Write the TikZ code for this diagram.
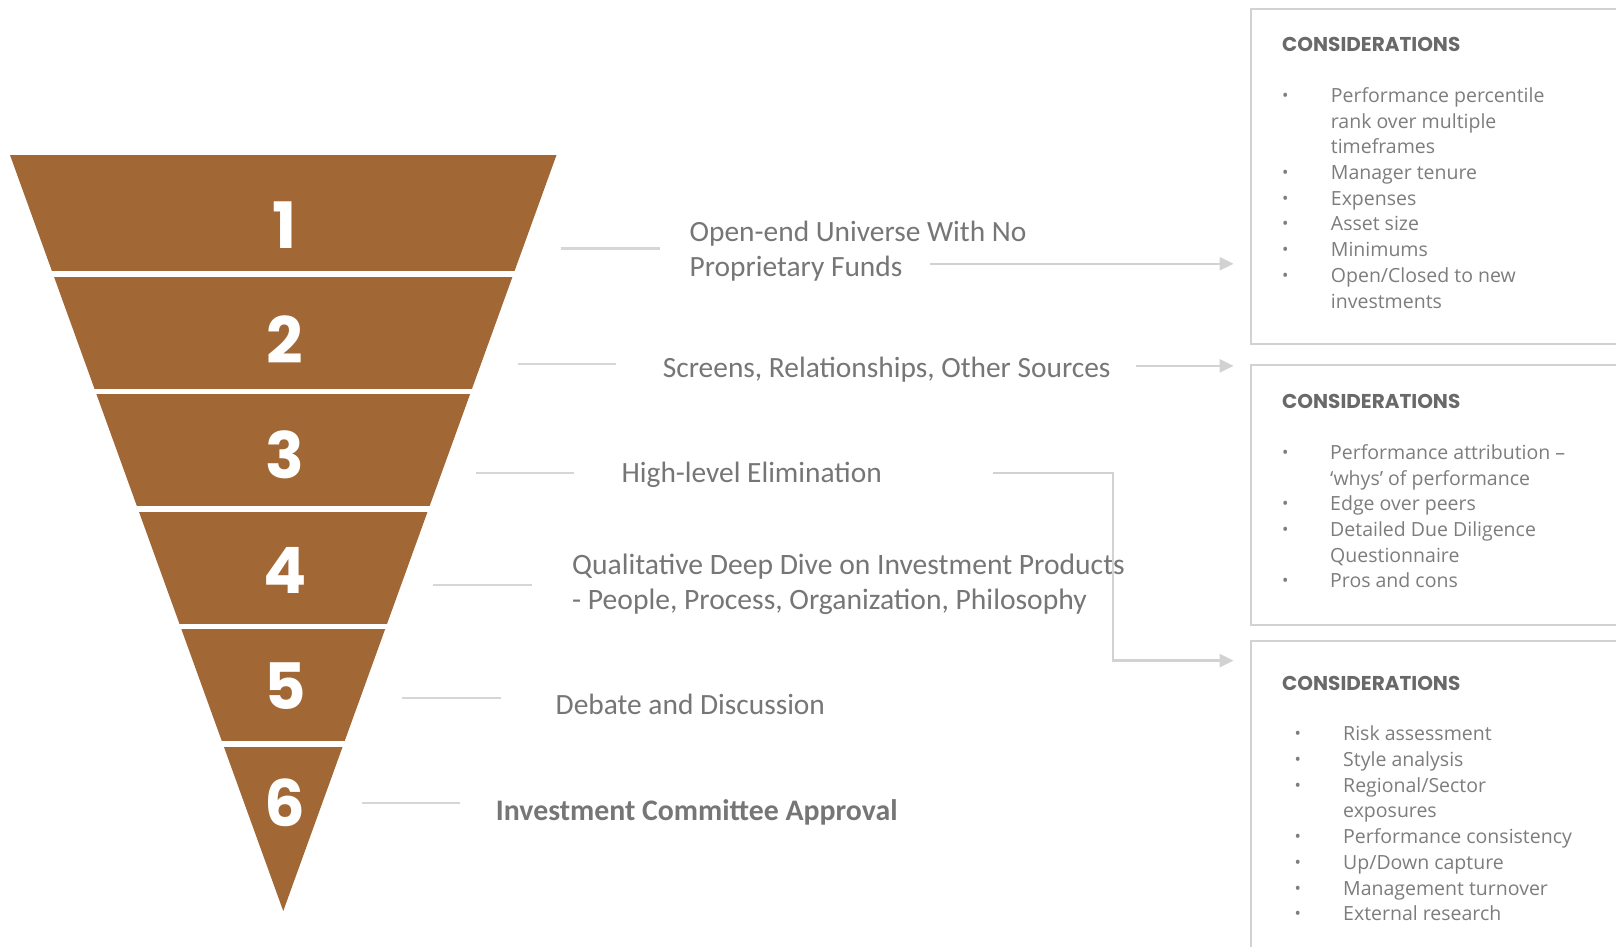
\documentclass[tikz,border=0pt]{standalone}
\usepackage{fontspec}
\setmainfont{Carlito}
\newfontfamily\bulletfont{Open Sans}
\newfontfamily\headfont{Poppins}
\usetikzlibrary{arrows.meta}
\definecolor{funnelbrown}{RGB}{161,103,52}
\definecolor{labelgray}{RGB}{118,118,118}
\definecolor{headgray}{RGB}{105,105,105}
\definecolor{listgray}{RGB}{125,125,125}
\definecolor{linegray}{RGB}{214,214,214}
\definecolor{boxgray}{RGB}{210,210,210}
\newcommand{\bul}{\raisebox{1pt}{\fontsize{17}{17}\selectfont •}}
\begin{document}
\begin{tikzpicture}[x=1pt,y=-1pt,
  digit/.style={text=white, font=\headfont\bfseries\fontsize{64}{64}\selectfont, inner sep=0pt},
  label/.style={text=labelgray, font=\fontsize{29.4}{35}\selectfont, anchor=west, align=left, inner sep=0pt},
  lead/.style={draw=linegray, line width=2.5pt},
  flow/.style={draw=boxgray, line width=2.5pt, -{Triangle[length=14pt,width=13pt]}},
  panel/.style={draw=boxgray, line width=2pt, anchor=north west, inner sep=0pt, minimum width=500pt},
  head/.style={text=headgray, font=\headfont\bfseries\fontsize{20}{24}\selectfont, anchor=west, inner sep=0pt},
  items/.style={text=listgray, font=\bulletfont\fontsize{19.5}{25.7}\selectfont, anchor=base west, inner sep=0pt}
]
\clip (0,0) rectangle (1616,947);
\fill[white] (0,0) rectangle (1616,947);

% funnel
\fill[funnelbrown] (10,155) -- (556.5,155) -- (283.25,911) -- cycle;
\foreach \yy in {274,391.5,509,626.5,744}
  \draw[white, line width=5.5pt] (0,\yy) -- (600,\yy);

\node[digit] (d1) at (285,224.7) {1};
\node[digit] (d2) at (285,340) {2};
\node[digit] (d3) at (285,454.5) {3};
\node[digit] (d4) at (285,570) {4};
\node[digit] (d5) at (285,686.4) {5};
\node[digit] (d6) at (285,802.8) {6};

% leader lines
\coordinate (l1a) at (560.6,248.4); \coordinate (l1b) at (659.6,248.4);
\coordinate (l2a) at (518,363.8);   \coordinate (l2b) at (616,363.8);
\coordinate (l3a) at (476,473);     \coordinate (l3b) at (574,473);
\coordinate (l4a) at (433,585);     \coordinate (l4b) at (532,585);
\coordinate (l5a) at (402,698);     \coordinate (l5b) at (501,698);
\coordinate (l6a) at (362,803);     \coordinate (l6b) at (460,803);
\foreach \i in {1,...,6} \draw[lead] (l\i a) -- (l\i b);

% labels
\node[label] (t1) at (689.5,251.5) {Open-end Universe With No\\Proprietary Funds};
\node[label] (t2) at (662.7,370) {Screens, Relationships, Other Sources};
\node[label] (t3) at (621.4,475) {High-level Elimination};
\node[label, font=\fontsize{29.6}{35}\selectfont] (t4) at (572,584.3) {Qualitative Deep Dive on Investment Products\\- People, Process, Organization, Philosophy};
\node[label] (t5) at (555.5,704.5) {Debate and Discussion};
\node[label, font=\bfseries\fontsize{29.8}{35}\selectfont] (t6) at (495.7,812) {Investment Committee Approval};

% panels
\node[panel, minimum height=335pt] (b1) at (1250,8) {};
\node[panel, minimum height=259.5pt] (b2) at (1250,364) {};
\node[panel, minimum height=400pt] (b3) at (1250,640) {};

% arrows
\coordinate (a1s) at (929.6,263.8); \coordinate (a1e) at (1233.6,263.8);
\coordinate (a2s) at (1135.7,365.9); \coordinate (a2e) at (1233.6,365.9);
\coordinate (a3s) at (992.5,473); \coordinate (a3e) at (1233.6,660.6);
\draw[flow] (a1s) -- (a1e);
\draw[flow] (a2s) -- (a2e);
\draw[flow] (a3s) -- (1113,473) |- (a3e);

% headings
\node[head] (h1) at (1282,44.5) {CONSIDERATIONS};
\node[head] (h2) at (1282,401.5) {CONSIDERATIONS};
\node[head] (h3) at (1282,683.5) {CONSIDERATIONS};

% lists
\node[items] (i1) at (1282,102.5) {\begin{tabular}[t]{@{}p{48.7pt}@{}l@{}}
\bul & Performance percentile\\
 & rank over multiple\\
 & timeframes\\
\bul & Manager tenure\\
\bul & Expenses\\
\bul & Asset size\\
\bul & Minimums\\
\bul & Open/Closed to new\\
 & investments
\end{tabular}};
\node[items] (i2) at (1282,459.4) {\begin{tabular}[t]{@{}p{48pt}@{}l@{}}
\bul & Performance attribution –\\
 & ‘whys’ of performance\\
\bul & Edge over peers\\
\bul & Detailed Due Diligence\\
 & Questionnaire\\
\bul & Pros and cons
\end{tabular}};
\node[items] (i3) at (1294.5,740.8) {\begin{tabular}[t]{@{}p{48.5pt}@{}l@{}}
\bul & Risk assessment\\
\bul & Style analysis\\
\bul & Regional/Sector\\
 & exposures\\
\bul & Performance consistency\\
\bul & Up/Down capture\\
\bul & Management turnover\\
\bul & External research
\end{tabular}};
\end{tikzpicture}
\end{document}
